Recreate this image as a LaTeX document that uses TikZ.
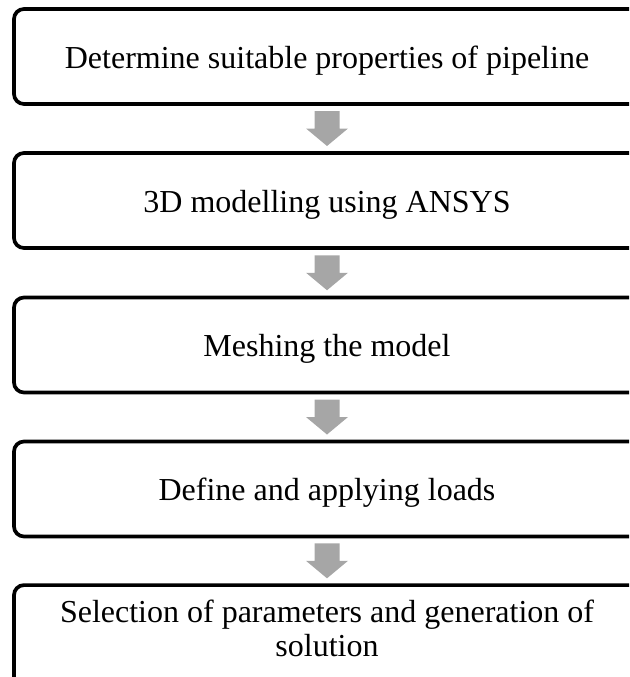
\documentclass[tikz,border=0pt]{standalone}
\usepackage{fontspec}
\setmainfont{Liberation Serif}
\usetikzlibrary{calc}
\definecolor{arrowgray}{RGB}{166,166,166}
\begin{document}
\begin{tikzpicture}[x=1pt,y=-1pt,
  box/.style={draw=black, line width=3.7pt, rounded corners=10pt,
    minimum width=626pt, minimum height=95pt, inner sep=0pt,
    font=\fontsize{32}{34}\selectfont, text height=30pt, text depth=7pt},
  boxtext/.style={font=\fontsize{32}{34}\selectfont, align=center, inner sep=0pt},
  blockarrow/.style={fill=arrowgray}]
\useasboundingbox (0,0) rectangle (629,677);
\clip (0,0) rectangle (629,677);
\node[box] (b1) at (327,56.5) {Determine suitable properties of pipeline};
\node[box] (b2) at (327,200.5) {3D modelling using ANSYS};
\node[box] (b3) at (327,345) {Meshing the model};
\node[box] (b4) at (327,489) {Define and applying loads};
\node[box, minimum height=130pt, anchor=north] (b5) at (327,583.25) {};
\node[boxtext] (t5) at (327,628.5) {Selection of parameters and generation of\\solution};
\foreach \a/\b [count=\i] in {b1/b2,b2/b3,b3/b4,b4/b5}{
  \coordinate (m\i) at ($(\a.south)!0.5!(\b.north)$);
  \fill[blockarrow] ($(m\i)+(-12.5,-17.5)$) -- ($(m\i)+(12.5,-17.5)$)
    -- ($(m\i)+(12.5,0)$) -- ($(m\i)+(21,0)$) -- ($(m\i)+(0,17.5)$)
    -- ($(m\i)+(-21,0)$) -- ($(m\i)+(-12.5,0)$) -- cycle;
}
\end{tikzpicture}
\end{document}
